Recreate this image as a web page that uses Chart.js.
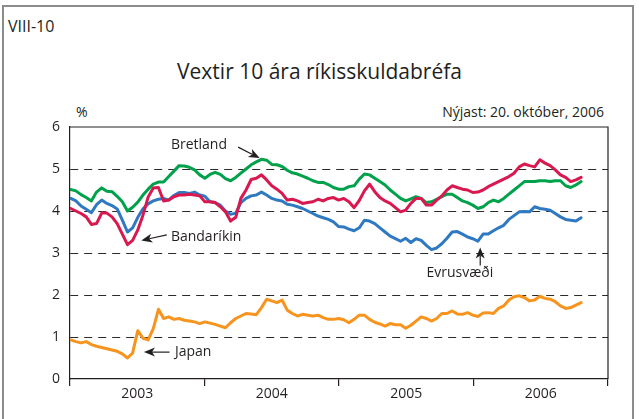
<!DOCTYPE html>
<html lang="is">
<head>
<meta charset="utf-8">
<title>Vextir 10 ára ríkisskuldabréfa</title>
<script src="https://cdn.jsdelivr.net/npm/chart.js@4"></script>
<style>
  html, body { margin: 0; padding: 0; background: #fff; }
  body { width: 639px; height: 419px; overflow: hidden; position: relative;
         font-family: "Open Sans", "Noto Sans", sans-serif; color: #231f20; }
  .frame { position: absolute; left: 2px; top: 5px; width: 632px; height: 440px;
           border: 2px solid #8c8c8c; box-sizing: border-box; }
  .txt { position: absolute; white-space: nowrap; line-height: 1; }
  #fig { left: 8px; top: 18px; font-size: 16px; }
  #title { left: 0; width: 639px; text-align: center; top: 61px; font-size: 21px; }
  #unit { left: 76px; top: 105px; font-size: 14px; }
  #latest { right: 35px; top: 105px; font-size: 14px; }
  canvas { position: absolute; left: 0; top: 0; }
</style>
</head>
<body>
<div class="frame"></div>
<div class="txt" id="fig">VIII-10</div>
<div class="txt" id="title">Vextir 10 ára ríkisskuldabréfa</div>
<div class="txt" id="unit">%</div>
<div class="txt" id="latest">Nýjast: 20. október, 2006</div>
<canvas id="chart" width="639" height="419"></canvas>

<script>
// Fortnightly observations, first one 3. janúar 2003
const firstDay = new Date(2003, 0, 3);
const stepDays = 14;

const yearLabels = ['2003', '2004', '2005', '2006'];
const yTicks = [0, 1, 2, 3, 4, 5, 6];

// Bandaríkin
const usa = [
  4.06, 4.00, 3.94, 3.86, 3.68, 3.70, 3.95, 3.95, 3.86, 3.70, 3.45, 3.20, 3.30, 3.55,
  3.90, 4.33, 4.55, 4.56, 4.24, 4.26, 4.34, 4.38, 4.38, 4.40, 4.38, 4.36, 4.22,
  4.22, 4.20, 4.10, 3.98, 3.76, 3.85, 4.30, 4.50, 4.75, 4.78, 4.86, 4.74, 4.60, 4.52,
  4.42, 4.26, 4.28, 4.24, 4.18, 4.20, 4.22, 4.28, 4.24, 4.30, 4.32, 4.26, 4.30,
  4.22, 4.08, 4.25, 4.48, 4.64, 4.46, 4.32, 4.24, 4.18, 4.08, 3.98, 4.02, 4.18, 4.30,
  4.30, 4.14, 4.14, 4.26, 4.36, 4.50, 4.60, 4.56, 4.52, 4.50, 4.44, 4.45, 4.50,
  4.58, 4.64, 4.70, 4.76, 4.82, 4.90, 5.05, 5.12, 5.08, 5.05, 5.22, 5.14, 5.08, 4.98,
  4.86, 4.80, 4.70, 4.74, 4.80
];

// Bretland
const uk = [
  4.51, 4.48, 4.39, 4.32, 4.24, 4.45, 4.55, 4.47, 4.46, 4.35, 4.22, 4.00, 4.09, 4.21,
  4.38, 4.52, 4.64, 4.69, 4.69, 4.82, 4.95, 5.08, 5.07, 5.04, 4.98, 4.86, 4.78,
  4.87, 4.92, 4.87, 4.77, 4.72, 4.80, 4.90, 5.00, 5.10, 5.17, 5.23, 5.21, 5.11, 5.10,
  5.06, 4.97, 4.91, 4.88, 4.83, 4.78, 4.72, 4.68, 4.68, 4.63, 4.56, 4.52, 4.52,
  4.58, 4.60, 4.76, 4.88, 4.86, 4.78, 4.70, 4.62, 4.50, 4.40, 4.30, 4.24, 4.29, 4.34,
  4.30, 4.20, 4.22, 4.28, 4.34, 4.40, 4.40, 4.32, 4.24, 4.20, 4.14, 4.06, 4.10,
  4.20, 4.26, 4.22, 4.30, 4.40, 4.50, 4.60, 4.70, 4.70, 4.70, 4.72, 4.72, 4.70, 4.72,
  4.72, 4.60, 4.56, 4.62, 4.70
];

// Evrusvæði
const euro = [
  4.30, 4.24, 4.12, 4.04, 3.96, 4.15, 4.26, 4.18, 4.13, 4.05, 3.78, 3.50, 3.60, 3.85,
  4.05, 4.17, 4.24, 4.28, 4.30, 4.26, 4.37, 4.44, 4.44, 4.42, 4.45, 4.38, 4.35,
  4.22, 4.20, 4.14, 4.00, 3.92, 3.95, 4.20, 4.30, 4.36, 4.38, 4.45, 4.38, 4.30, 4.26,
  4.24, 4.16, 4.14, 4.10, 4.06, 4.00, 3.94, 3.88, 3.84, 3.80, 3.74, 3.63, 3.62,
  3.57, 3.53, 3.60, 3.78, 3.76, 3.70, 3.60, 3.50, 3.40, 3.34, 3.28, 3.35, 3.25, 3.34,
  3.30, 3.18, 3.08, 3.12, 3.22, 3.35, 3.50, 3.51, 3.45, 3.38, 3.34, 3.28, 3.45,
  3.45, 3.53, 3.60, 3.66, 3.80, 3.89, 3.98, 3.99, 3.98, 4.10, 4.06, 4.04, 4.02, 3.94,
  3.86, 3.80, 3.78, 3.76, 3.84
];

// Japan
const japan = [
  0.93, 0.89, 0.86, 0.89, 0.82, 0.78, 0.75, 0.72, 0.69, 0.66, 0.60, 0.50, 0.62, 1.15,
  0.97, 0.93, 1.20, 1.66, 1.44, 1.48, 1.42, 1.44, 1.40, 1.38, 1.36, 1.32, 1.36,
  1.33, 1.30, 1.26, 1.22, 1.34, 1.44, 1.50, 1.56, 1.55, 1.53, 1.70, 1.90, 1.86, 1.82,
  1.88, 1.64, 1.56, 1.50, 1.54, 1.52, 1.50, 1.52, 1.46, 1.42, 1.42, 1.44, 1.41,
  1.34, 1.42, 1.52, 1.52, 1.42, 1.35, 1.31, 1.26, 1.32, 1.29, 1.29, 1.21, 1.28, 1.38,
  1.48, 1.44, 1.38, 1.44, 1.56, 1.56, 1.62, 1.55, 1.54, 1.58, 1.52, 1.49, 1.57,
  1.58, 1.56, 1.68, 1.74, 1.88, 1.96, 1.98, 1.94, 1.86, 1.88, 1.97, 1.92, 1.90, 1.84,
  1.74, 1.68, 1.70, 1.76, 1.82
];

// date -> decimal year
const toYear = d => {
  const y = d.getFullYear();
  const a = new Date(y, 0, 1), b = new Date(y + 1, 0, 1);
  return y + (d - a) / (b - a);
};

const dates = usa.map((_, i) => {
  const d = new Date(firstDay);
  d.setDate(d.getDate() + i * stepDays);
  return toYear(d);
});

const pts = arr => arr.map((v, i) => ({ x: dates[i], y: v }));

// Merkingar með örvum (gildi í hnitum ásanna)
const notes = [
  { text: 'Bretland',   tx: 2003.75, ty: 5.57, from: [2004.25, 5.52], to: [2004.41, 5.26] },
  { text: 'Bandaríkin', tx: 2003.75, ty: 3.38, from: [2003.72, 3.43], to: [2003.53, 3.30] },
  { text: 'Evrusvæði',  tx: 2005.65, ty: 2.52, from: [2006.05, 2.70], to: [2006.05, 3.13] },
  { text: 'Japan',      tx: 2003.78, ty: 0.64, from: [2003.74, 0.64], to: [2003.55, 0.64] }
];

const INK = '#231f20';
const FONT = '"Open Sans", "Noto Sans", sans-serif';

const notesPlugin = {
  id: 'notes',
  afterDatasetsDraw(chart) {
    const { ctx, scales: { x, y }, chartArea: a } = chart;
    ctx.save();
    // top and right edges of the plot box
    ctx.strokeStyle = INK;
    ctx.lineWidth = 1.2;
    ctx.beginPath();
    ctx.moveTo(a.left, a.top);
    ctx.lineTo(a.right, a.top);
    ctx.lineTo(a.right, a.bottom);
    ctx.stroke();

    ctx.font = '14px ' + FONT;
    ctx.fillStyle = INK;
    ctx.textBaseline = 'middle';
    notes.forEach(n => {
      ctx.textAlign = 'left';
      ctx.fillText(n.text, x.getPixelForValue(n.tx), y.getPixelForValue(n.ty));
      const x0 = x.getPixelForValue(n.from[0]), y0 = y.getPixelForValue(n.from[1]);
      const x1 = x.getPixelForValue(n.to[0]), y1 = y.getPixelForValue(n.to[1]);
      const ang = Math.atan2(y1 - y0, x1 - x0);
      const len = 11, half = 4.5;
      const bx = x1 - len * Math.cos(ang), by = y1 - len * Math.sin(ang);
      ctx.lineWidth = 1.2;
      ctx.beginPath();
      ctx.moveTo(x0, y0);
      ctx.lineTo(bx + 3 * Math.cos(ang), by + 3 * Math.sin(ang));
      ctx.stroke();
      ctx.beginPath();
      ctx.moveTo(x1, y1);
      ctx.lineTo(bx - half * Math.sin(ang), by + half * Math.cos(ang));
      ctx.lineTo(bx + 3 * Math.cos(ang), by + 3 * Math.sin(ang));
      ctx.lineTo(bx + half * Math.sin(ang), by - half * Math.cos(ang));
      ctx.closePath();
      ctx.fill();
    });
    ctx.restore();
  }
};

const line = (label, data, color) => ({
  label, data: pts(data), borderColor: color, backgroundColor: color,
  borderWidth: 3, pointRadius: 0, tension: 0, fill: false,
  borderJoinStyle: 'round', borderCapStyle: 'round'
});

new Chart(document.getElementById('chart'), {
  type: 'line',
  data: {
    datasets: [
      line('Bandaríkin', usa, '#d9184f'),
      line('Bretland', uk, '#00a14b'),
      line('Evrusvæði', euro, '#2f78c2'),
      line('Japan', japan, '#f7941d')
    ]
  },
  options: {
    responsive: false,
    animation: false,
    events: [],
    layout: { padding: { left: 0, right: 31, top: 127, bottom: 0 } },
    plugins: { legend: { display: false }, tooltip: { enabled: false } },
    scales: {
      x: {
        type: 'linear', min: 2003, max: 2007,
        afterBuildTicks: s => {
          s.ticks = [];
          yearLabels.forEach((yr, i) => {
            s.ticks.push({ value: 2003 + i });
            s.ticks.push({ value: 2003 + i + 0.5 });
          });
          s.ticks.push({ value: 2007 });
        },
        afterFit: s => { s.height = 40; },
        grid: {
          drawOnChartArea: false, drawTicks: true, tickLength: 7, lineWidth: 1.2,
          color: c => (c.tick && c.tick.value % 1 === 0) ? INK : 'rgba(0,0,0,0)'
        },
        border: { display: true, color: INK, width: 1.2 },
        ticks: {
          autoSkip: false, maxRotation: 0, padding: 0, color: INK,
          font: { family: FONT, size: 14 },
          callback: v => (v % 1 !== 0) ? yearLabels[Math.floor(v) - 2003] : ''
        }
      },
      y: {
        min: 0, max: 6,
        afterBuildTicks: s => { s.ticks = yTicks.map(v => ({ value: v })); },
        afterFit: s => { s.width = 70; },
        grid: {
          drawTicks: false, lineWidth: 1,
          color: c => (c.tick && c.tick.value > 0 && c.tick.value < 6) ? '#2a2a2a' : 'rgba(0,0,0,0)'
        },
        border: { display: true, color: INK, width: 1.2, dash: [8, 6] },
        ticks: { padding: 10, color: INK, font: { family: FONT, size: 14 } }
      }
    }
  },
  plugins: [notesPlugin]
});
</script>
</body>
</html>
